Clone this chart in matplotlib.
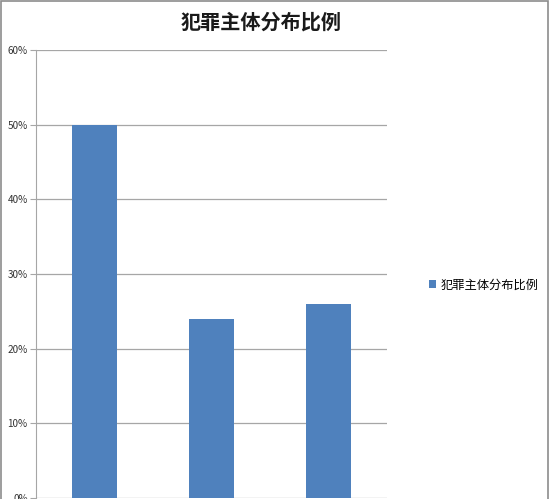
import matplotlib.pyplot as plt
from matplotlib.patches import Rectangle
from matplotlib.ticker import FuncFormatter

plt.rcParams['font.family'] = ['Noto Sans CJK SC', 'DejaVu Sans']

title = '犯罪主体分布比例'
series_name = '犯罪主体分布比例'
categories = ['类别一', '类别二', '类别三']  # cut off in the reference
values = [0.50, 0.24, 0.26]

fig = plt.figure(figsize=(5.5, 4.99), dpi=100)
ax = fig.add_axes([36 / 550, 1 / 499, 351 / 550, 448 / 499])

bars = ax.bar(range(len(categories)), values, width=0.39, color='#4f81bd',
              label=series_name, zorder=3)
ax.set_xlim(-0.5, len(categories) - 0.5)
ax.set_ylim(0, 0.6)
ax.set_yticks([0, 0.1, 0.2, 0.3, 0.4, 0.5, 0.6])
ax.yaxis.set_major_formatter(FuncFormatter(lambda v, p: '%d%%' % round(v * 100)))
ax.set_xticks(range(len(categories)))
ax.set_xticklabels(categories)
ax.grid(axis='y', color='#a6a6a6', linewidth=0.9, zorder=0)

for s in ['top', 'right', 'bottom']:
    ax.spines[s].set_visible(False)
ax.spines['left'].set_color('#a6a6a6')
ax.tick_params(axis='y', length=4, color='#a6a6a6', labelsize=7.2, labelcolor='#333333', pad=2)
ax.tick_params(axis='x', length=0, labelbottom=False)  # labels fall below the visible crop

fig.text(0.475, 0.955, title, ha='center', va='center', fontsize=14.5, fontweight='bold', color='#1a1a1a')

leg = fig.legend(handles=[bars], labels=[series_name], loc='center left',
                 bbox_to_anchor=(418 / 550, 1 - 285 / 499), frameon=False,
                 fontsize=8.8, handlelength=0.55, handleheight=0.55, handletextpad=0.4)

# outer chart frame
fig.patches.append(Rectangle((0.001, -0.01), 0.996, 1.008, transform=fig.transFigure,
                             fill=False, edgecolor='#8c8c8c', linewidth=1.2))

fig.savefig('out.png', dpi=100)
